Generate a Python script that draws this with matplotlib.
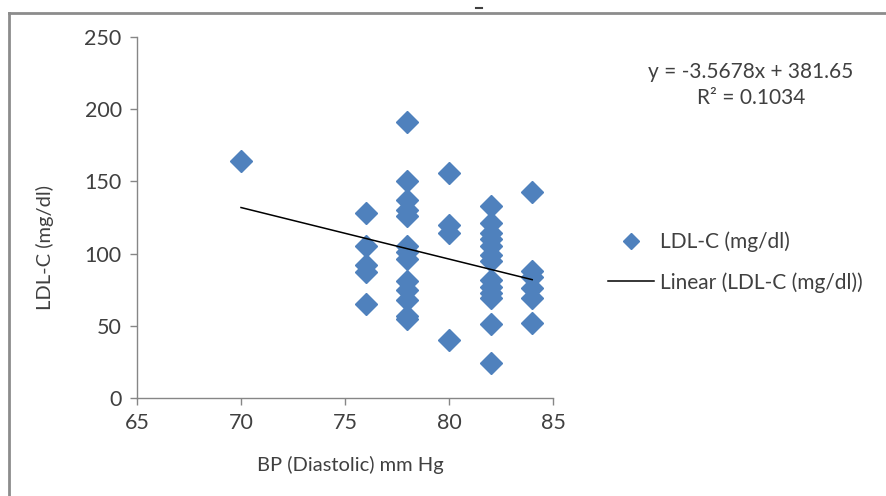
import numpy as np
import matplotlib.pyplot as plt
from matplotlib.lines import Line2D

plt.rcParams['font.family'] = ['Lato', 'DejaVu Sans']

# Data: diastolic BP (mm Hg) vs LDL-C (mg/dl)
bp_70 = [70]
ldl_70 = [164]
bp_76 = [76] * 5
ldl_76 = [128, 105, 92, 87, 65]
bp_78 = [78] * 13
ldl_78 = [191, 150, 137, 130, 126, 105, 101, 96, 81, 75, 68, 57, 55]
bp_80 = [80] * 4
ldl_80 = [156, 120, 114, 40]
bp_82 = [82] * 13
ldl_82 = [133, 121, 114, 110, 105, 99, 95, 82, 77, 73, 69, 51, 24]
bp_84 = [84] * 6
ldl_84 = [143, 88, 84, 76, 69, 52]

bp = np.array(bp_70 + bp_76 + bp_78 + bp_80 + bp_82 + bp_84, dtype=float)
ldl = np.array(ldl_70 + ldl_76 + ldl_78 + ldl_80 + ldl_82 + ldl_84, dtype=float)

# trendline as reported on the chart
slope = -3.5678
intercept = 381.65
r2 = 0.1034

x_ticks = [65, 70, 75, 80, 85]
y_ticks = [0, 50, 100, 150, 200, 250]

fig = plt.figure(figsize=(8.87, 4.96), dpi=100)
ax = fig.add_axes([137 / 887, 98 / 496, 416 / 887, 361 / 496])

blue = '#4F81BD'
grey = '#868686'
txt = '#404040'

ax.plot(bp, ldl, linestyle='none', marker='D', markersize=11,
        color=blue, markeredgecolor=blue, label='LDL-C (mg/dl)', zorder=3)
xl = np.array([bp.min(), bp.max()])
ax.plot(xl, slope * xl + intercept, color='black', linewidth=1.1,
        label='Linear (LDL-C (mg/dl))', zorder=4)

ax.set_xlim(65, 85)
ax.set_ylim(0, 250)
ax.set_xticks(x_ticks)
ax.set_yticks(y_ticks)
ax.tick_params(axis='both', direction='out', length=5, width=1, color=grey,
               labelsize=15.5, labelcolor=txt)
ax.tick_params(axis='y', pad=6)
ax.tick_params(axis='x', pad=6)
for side in ['top', 'right']:
    ax.spines[side].set_visible(False)
for side in ['left', 'bottom']:
    ax.spines[side].set_color(grey)
    ax.spines[side].set_linewidth(1)

ax.set_xlabel('BP (Diastolic) mm Hg', fontsize=14.5, color=txt)
ax.set_ylabel('LDL-C (mg/dl)', fontsize=14.5, color=txt)
ax.xaxis.set_label_coords((350 - 137) / 416, (398 - 465) / 361)
ax.yaxis.set_label_coords((45 - 137) / 416, (398 - 248) / 361)
ax.xaxis.label.set_va('center')
ax.yaxis.label.set_va('center')

fig.text(751 / 887, 1 - 72 / 496, f'y = {slope}x + {intercept}', ha='center',
         va='center', fontsize=15, color=txt)
fig.text(751 / 887, 1 - 98 / 496, f'R² = {r2}', ha='center', va='center',
         fontsize=15, color=txt)

leg = fig.legend(loc='upper left', bbox_to_anchor=(589 / 887, 1 - 213 / 496),
                 frameon=False, fontsize=15, handlelength=2.2, handletextpad=0.3,
                 labelspacing=0.95, markerscale=0.75)
for t in leg.get_texts():
    t.set_color(txt)

# outer chart frame (only top and left edges visible)
fig.add_artist(Line2D([9 / 887, 9 / 887], [0, 1 - 13 / 496], transform=fig.transFigure,
                      color='#8c8c8c', linewidth=2))
fig.add_artist(Line2D([9 / 887, 1], [1 - 13 / 496, 1 - 13 / 496], transform=fig.transFigure,
                      color='#8c8c8c', linewidth=2))
fig.add_artist(Line2D([476 / 887, 482 / 887], [1 - 8 / 496, 1 - 8 / 496], transform=fig.transFigure,
                      color='#404040', linewidth=1.5))

fig.savefig('out.png', dpi=100)
